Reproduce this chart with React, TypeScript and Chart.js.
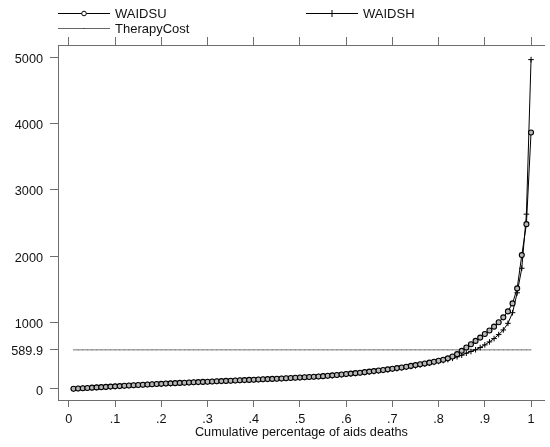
import React, { useEffect, useRef } from "react";
import { Chart, registerables } from "chart.js";

Chart.register(...registerables);

const pct = [
  0.01, 0.02, 0.03, 0.04, 0.05, 0.06, 0.07, 0.08, 0.09, 0.1,
  0.11, 0.12, 0.13, 0.14, 0.15, 0.16, 0.17, 0.18, 0.19, 0.2,
  0.21, 0.22, 0.23, 0.24, 0.25, 0.26, 0.27, 0.28, 0.29, 0.3,
  0.31, 0.32, 0.33, 0.34, 0.35, 0.36, 0.37, 0.38, 0.39, 0.4,
  0.41, 0.42, 0.43, 0.44, 0.45, 0.46, 0.47, 0.48, 0.49, 0.5,
  0.51, 0.52, 0.53, 0.54, 0.55, 0.56, 0.57, 0.58, 0.59, 0.6,
  0.61, 0.62, 0.63, 0.64, 0.65, 0.66, 0.67, 0.68, 0.69, 0.7,
  0.71, 0.72, 0.73, 0.74, 0.75, 0.76, 0.77, 0.78, 0.79, 0.8,
  0.81, 0.82, 0.83, 0.84, 0.85, 0.86, 0.87, 0.88, 0.89, 0.9,
  0.91, 0.92, 0.93, 0.94, 0.95, 0.96, 0.97, 0.98, 0.99, 1.0,
];

const waidsu = [
  3, 8, 12, 16, 20, 24, 28, 32, 36, 40,
  44, 48, 52, 56, 60, 64, 68, 71, 75, 78,
  82, 85, 88, 92, 95, 98, 101, 104, 107, 110,
  113, 116, 119, 122, 125, 128, 131, 134, 137, 140,
  143, 146, 149, 152, 155, 158, 162, 165, 169, 173,
  177, 181, 185, 189, 194, 200, 206, 212, 218, 225,
  232, 239, 246, 254, 262, 270, 278, 287, 296, 305,
  315, 325, 336, 348, 360, 372, 384, 397, 411, 425,
  442, 462, 490, 525, 575, 625, 675, 725, 775, 828,
  882, 940, 1005, 1080, 1170, 1290, 1516, 2018, 2485, 3866,
];

const waidsh = [
  2, 7, 11, 15, 19, 23, 27, 31, 35, 39,
  43, 47, 51, 55, 59, 63, 67, 70, 74, 77,
  81, 84, 87, 91, 94, 97, 100, 103, 106, 109,
  112, 115, 118, 121, 124, 127, 130, 133, 136, 139,
  142, 145, 148, 151, 154, 157, 160, 163, 167, 171,
  175, 179, 183, 187, 191, 196, 202, 208, 214, 221,
  228, 235, 242, 249, 257, 265, 273, 281, 290, 299,
  308, 318, 328, 339, 350, 362, 374, 387, 401, 415,
  428, 443, 462, 485, 510, 540, 565, 592, 625, 665,
  710, 760, 820, 890, 990, 1150, 1450, 1820, 2635, 4965,
];

const therapyCostLevel = 589.9;

const xTickValues = [0, 0.1, 0.2, 0.3, 0.4, 0.5, 0.6, 0.7, 0.8, 0.9, 1];
const yTickValues = [0, 589.9, 1000, 2000, 3000, 4000, 5000];

const FONT = "'Liberation Sans', Arial, Helvetica, sans-serif";
const AXIS_COLOR = "#6e6e6e";

const fmtX = (v: number) => {
  if (Math.abs(v) < 1e-9) return "0";
  if (Math.abs(v - 1) < 1e-9) return "1";
  return "." + Math.round(v * 10);
};

const legendPlugin = {
  id: "stataLegend",
  afterDraw(chart: any) {
    const ctx = chart.ctx;
    ctx.save();
    ctx.font = `13px ${FONT}`;
    ctx.fillStyle = "#111";
    ctx.textBaseline = "middle";
    ctx.textAlign = "left";
    const items = [
      { x0: 58, x1: 110, y: 13, label: "WAIDSU", mark: "circle", color: "#000" },
      { x0: 306, x1: 358, y: 13, label: "WAIDSH", mark: "cross", color: "#000" },
      { x0: 58, x1: 110, y: 28, label: "TherapyCost", mark: "dot", color: "#666" },
    ];
    for (const it of items) {
      ctx.strokeStyle = it.color;
      ctx.lineWidth = 1;
      ctx.beginPath();
      ctx.moveTo(it.x0, it.y + 0.5);
      ctx.lineTo(it.x1, it.y + 0.5);
      ctx.stroke();
      const cx = (it.x0 + it.x1) / 2;
      if (it.mark === "circle") {
        ctx.beginPath();
        ctx.arc(cx, it.y + 0.5, 2.3, 0, Math.PI * 2);
        ctx.fillStyle = "#fff";
        ctx.fill();
        ctx.strokeStyle = "#000";
        ctx.stroke();
      } else if (it.mark === "cross") {
        ctx.beginPath();
        ctx.moveTo(cx, it.y - 3);
        ctx.lineTo(cx, it.y + 4);
        ctx.stroke();
      } else {
        ctx.fillStyle = "#333";
        ctx.fillRect(cx - 0.5, it.y, 1, 1);
      }
      ctx.fillStyle = "#111";
      ctx.fillText(it.label, it.x1 + 5, it.y + 1);
    }
    ctx.restore();
  },
};

export default function App() {
  const ref = useRef<HTMLCanvasElement | null>(null);

  useEffect(() => {
    document.body.style.margin = "0";
    const canvas = ref.current;
    if (!canvas) return;

    const chart = new Chart(canvas, {
      type: "line",
      data: {
        datasets: [
          {
            label: "WAIDSU",
            data: pct.map((x, i) => ({ x, y: waidsu[i] })),
            borderColor: "#000",
            borderWidth: 1,
            pointStyle: "circle",
            pointRadius: 2.5,
            pointBorderWidth: 1.1,
            pointBorderColor: "#000",
            pointBackgroundColor: "#b8b8b8",
            tension: 0,
            xAxisID: "x",
            yAxisID: "y",
          },
          {
            label: "WAIDSH",
            data: pct.map((x, i) => ({ x, y: waidsh[i] })),
            borderColor: "#000",
            borderWidth: 1,
            pointStyle: "cross",
            pointRadius: 2.8,
            pointBorderWidth: 1,
            pointBorderColor: "#000",
            tension: 0,
            xAxisID: "x",
            yAxisID: "y",
          },
          {
            label: "TherapyCost",
            data: pct.map((x) => ({ x, y: therapyCostLevel })),
            borderColor: "#777",
            borderWidth: 1,
            pointStyle: "rect",
            pointRadius: 0.5,
            pointBorderWidth: 0,
            pointBackgroundColor: "#444",
            tension: 0,
            xAxisID: "x",
            yAxisID: "y",
          },
        ],
      },
      options: {
        animation: false,
        responsive: false,
        maintainAspectRatio: false,
        layout: { padding: 0 },
        plugins: {
          legend: { display: false },
          tooltip: { enabled: false },
        },
        scales: {
          x: {
            type: "linear",
            position: "bottom",
            min: -0.02355,
            max: 1.03,
            afterBuildTicks: (s: any) => {
              s.ticks = xTickValues.map((v) => ({ value: v }));
            },
            afterFit: (s: any) => {
              s.height = 47;
            },
            ticks: {
              autoSkip: false,
              maxRotation: 0,
              padding: 5,
              color: "#111",
              font: { family: FONT, size: 12.7 },
              callback: (v: any) => fmtX(Number(v)),
            },
            grid: {
              drawOnChartArea: false,
              drawTicks: true,
              tickLength: 7,
              color: AXIS_COLOR,
            },
            border: { display: true, color: AXIS_COLOR, width: 1 },
            title: {
              display: true,
              text: "Cumulative percentage of aids deaths",
              color: "#111",
              font: { family: FONT, size: 12.7 },
              padding: { top: 0, bottom: 7 },
            },
          },
          x2: {
            type: "linear",
            position: "top",
            min: -0.02355,
            max: 1.03,
            afterBuildTicks: (s: any) => {
              s.ticks = xTickValues.map((v) => ({ value: v }));
            },
            afterFit: (s: any) => {
              s.height = 45;
            },
            ticks: { display: false },
            grid: {
              drawOnChartArea: false,
              drawTicks: true,
              tickLength: 8,
              color: AXIS_COLOR,
            },
            border: { display: true, color: AXIS_COLOR, width: 1 },
          },
          y: {
            type: "linear",
            position: "left",
            min: -165.8,
            max: 5185,
            afterBuildTicks: (s: any) => {
              s.ticks = yTickValues.map((v) => ({ value: v }));
            },
            afterFit: (s: any) => {
              s.width = 58;
            },
            ticks: {
              autoSkip: false,
              padding: 7,
              labelOffset: 2,
              color: "#111",
              font: { family: FONT, size: 12.7 },
              callback: (v: any) => (Number(v) === 589.9 ? "589.9" : String(v)),
            },
            grid: {
              drawOnChartArea: false,
              drawTicks: true,
              tickLength: 8,
              color: AXIS_COLOR,
            },
            border: { display: true, color: AXIS_COLOR, width: 1 },
          },
        },
      } as any,
      plugins: [legendPlugin],
    });

    return () => {
      chart.destroy();
    };
  }, []);

  return (
    <div style={{ width: 550, height: 447, background: "#fff" }}>
      <canvas ref={ref} width={550} height={447} style={{ display: "block", width: 550, height: 447 }} />
    </div>
  );
}
